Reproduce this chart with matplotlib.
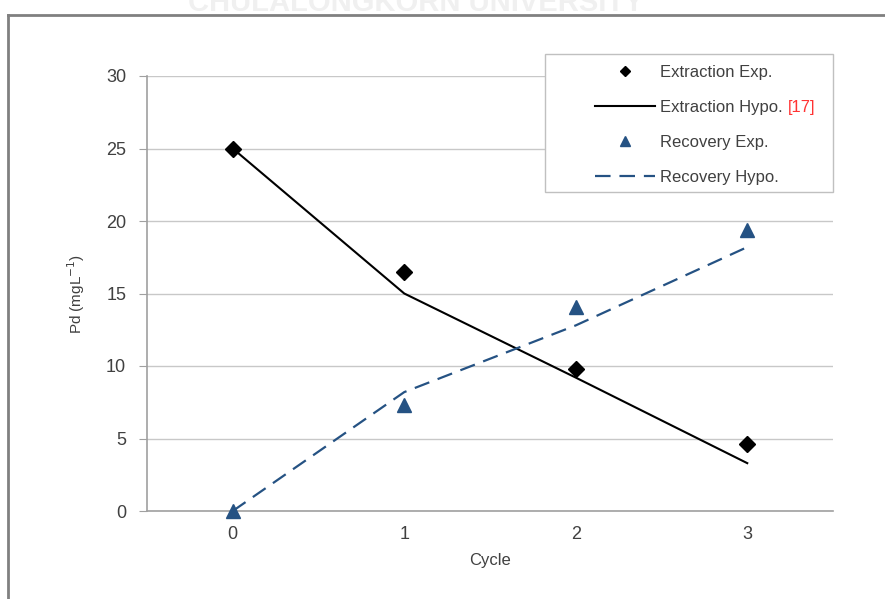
import numpy as np
import matplotlib.pyplot as plt
from matplotlib.lines import Line2D
from matplotlib.patches import Rectangle

# ===================== data =====================
cycles = [0, 1, 2, 3]
extraction_exp = [25.0, 16.5, 9.8, 4.6]
extraction_hypo = [25.0, 15.0, 9.2, 3.3]
recovery_exp = [0.0, 7.3, 14.1, 19.4]
recovery_hypo = [0.0, 8.2, 12.8, 18.2]

plt.rcParams["font.family"] = ["Liberation Sans Narrow", "Liberation Sans", "DejaVu Sans"]

blue = "#255283"
txt = "#404040"
W, H = 885, 599

fig = plt.figure(figsize=(8.85, 5.99), dpi=100)
ax = fig.add_axes([147 / W, 1 - 511 / H, (833 - 147) / W, (511 - 76) / H])

# chart frame (left + top edges) and faint watermark behind it
fig.add_artist(Line2D([8 / W, 8 / W], [0, 1 - 15 / H], color="#808080", lw=2))
fig.add_artist(Line2D([8 / W, 1], [1 - 15 / H, 1 - 15 / H], color="#808080", lw=2))
fig.text(416 / W, 1 - 17 / H, "CHULALONGKORN UNIVERSITY", ha="center", va="bottom",
         fontsize=21, fontweight="bold", color="#f0f0f0", zorder=0)

ax.plot(cycles, extraction_exp, linestyle="none", marker="D", ms=8, color="black",
        label="Extraction Exp.", zorder=4, clip_on=False)
ax.plot(cycles, extraction_hypo, color="black", lw=1.5, label="Extraction Hypo.", zorder=3)
ax.plot(cycles, recovery_exp, linestyle="none", marker="^", ms=10, color=blue,
        label="Recovery Exp.", zorder=4, clip_on=False)
ax.plot(cycles, recovery_hypo, color=blue, lw=1.6, dashes=(7, 4), label="Recovery Hypo.", zorder=3)

ax.set_xlim(-0.5, 3.5)
ax.set_ylim(0, 30)
ax.set_xticks(cycles)
ax.set_yticks(np.arange(0, 31, 5))
ax.grid(axis="y", color="#c8c8c8", lw=1)
ax.set_axisbelow(True)
for s in ["top", "right"]:
    ax.spines[s].set_visible(False)
for s in ["left", "bottom"]:
    ax.spines[s].set_color("#a0a0a0")
    ax.spines[s].set_linewidth(1.2)
ax.tick_params(axis="y", length=6, color="#a0a0a0", pad=9, labelsize=13, labelcolor=txt)
ax.tick_params(axis="x", length=0, pad=11, labelsize=13, labelcolor=txt)

ax.set_xlabel("Cycle", fontsize=12, color=txt, labelpad=7)
ax.set_ylabel(r"Pd (mgL$^{-1}$)", fontsize=11, color=txt, labelpad=14)

# legend box drawn separately so the wide left margin matches
fig.add_artist(Rectangle((545 / W, 1 - 192 / H), (833 - 545) / W, (192 - 54) / H,
                         transform=fig.transFigure, facecolor="white", edgecolor="#c0c0c0",
                         lw=1, zorder=5))
leg = fig.legend(loc="upper left", bbox_to_anchor=(595 / W, 1 - 65 / H), borderaxespad=0,
                 fontsize=12, frameon=False, handlelength=3.6, markerscale=0.7,
                 labelspacing=1.2, borderpad=0, handletextpad=0.3)
leg.set_zorder(6)
for t in leg.get_texts():
    t.set_color(txt)

fig.canvas.draw()
r = fig.canvas.get_renderer()
ext = leg.get_texts()[1].get_window_extent(r)
fig.text((ext.x1 + 5) / fig.bbox.width, (ext.y0 + ext.y1) / 2 / fig.bbox.height, "[17]",
         color="#ff3333", fontsize=12, ha="left", va="center", zorder=7)

fig.savefig("out.png", dpi=100)
